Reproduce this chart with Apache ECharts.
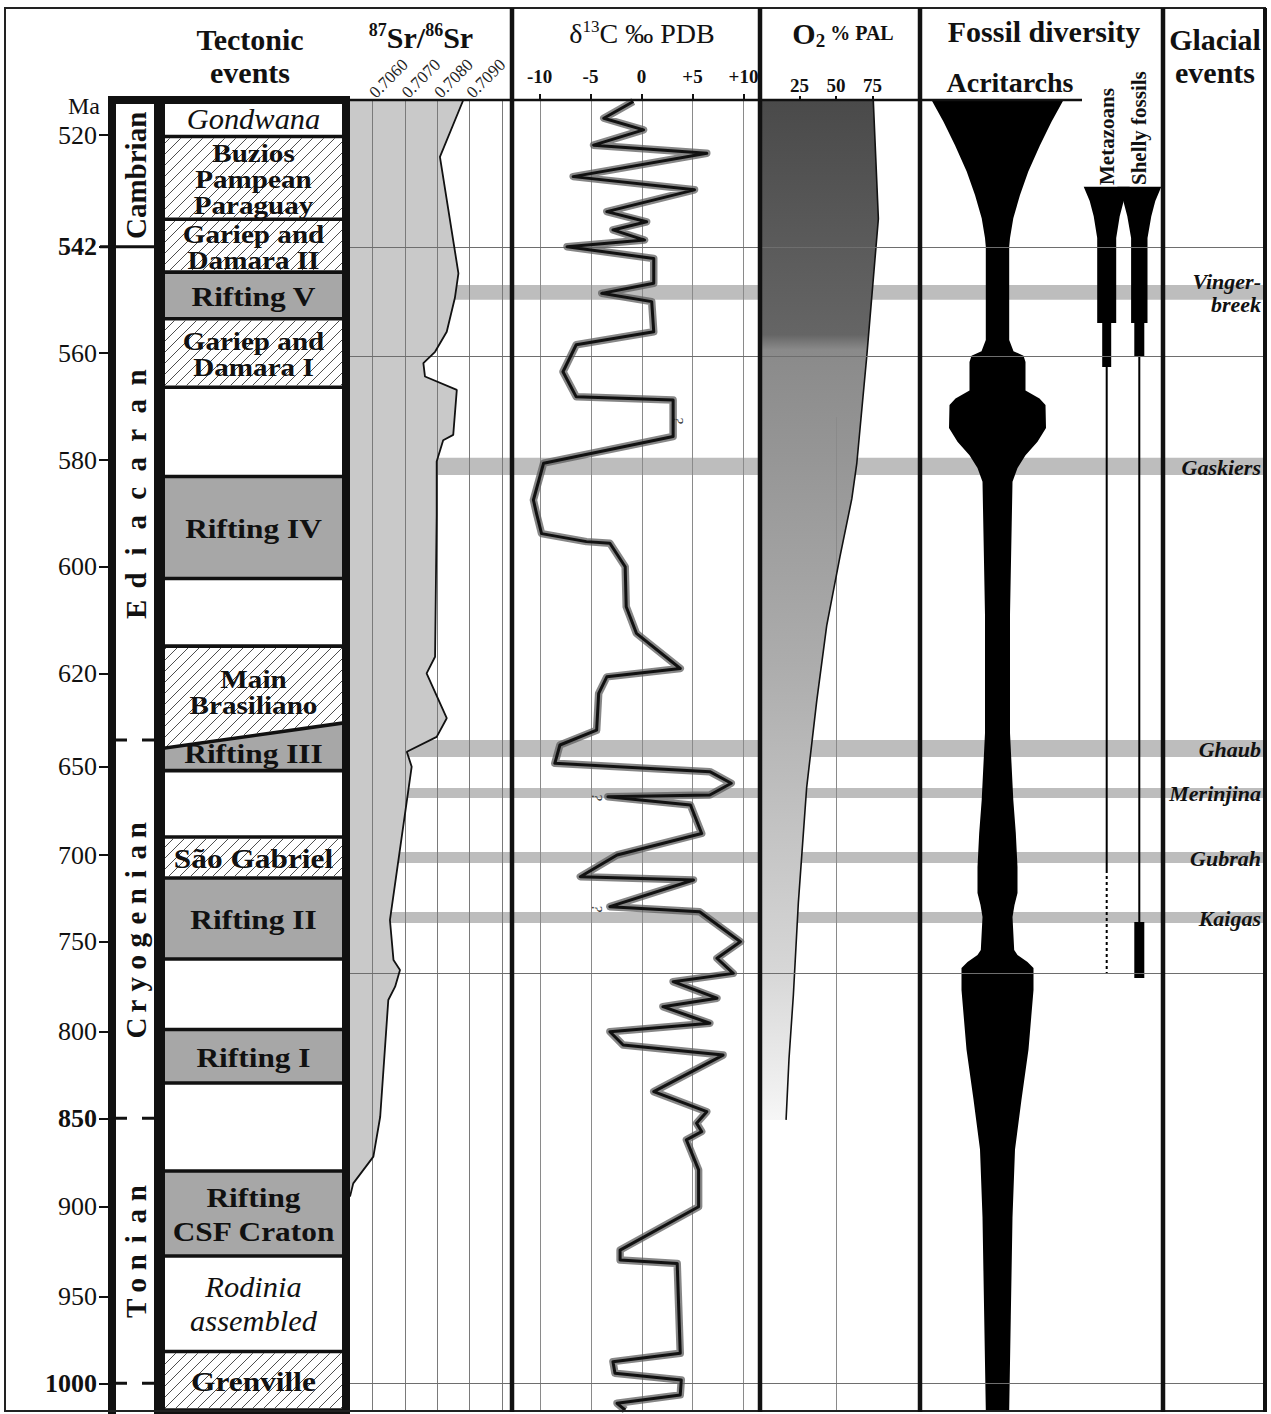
<!DOCTYPE html>
<html><head><meta charset="utf-8">
<script src="https://cdn.jsdelivr.net/npm/echarts@6/dist/echarts.min.js"></script>
<style>html,body{margin:0;padding:0;background:#fff}#c{width:1271px;height:1414px}</style>
</head><body><div id="c"></div>
<script>
// ---------- non-linear age scale of the figure (age -> scale units) ----------
const AGE_ANCHORS   = [513.1, 520, 542, 560, 580, 600, 620, 635, 650, 700, 750, 800, 850, 900, 950, 1000, 1015.2];
const SCALE_ANCHORS = [0, 35, 146.7, 253, 360, 466.7, 573.3, 640, 666.7, 755, 841.7, 931.7, 1018.3, 1106.7, 1196.7, 1283.3, 1310];
const TICK_AGES = [520, 542, 560, 580, 600, 620, 650, 700, 750, 800, 850, 900, 950, 1000];
const BOLD_TICKS = [542, 850, 1000];

// ---------- periods ----------
const PERIOD_NAMES = ['Cambrian', 'Ediacaran', 'Cryogenian', 'Tonian'];
const PERIOD_TOP   = [513.1, 542, 635, 850];
const PERIOD_BASE  = [542, 635, 850, 1000];
const BOUNDARY_AGES  = [542, 635, 850, 1000];
const BOUNDARY_SOLID = [true, false, false, false];

// ---------- tectonic events ----------
const TECT_LABELS = ['Gondwana', 'Buzios\nPampean\nParaguay', 'Gariep and\nDamara II', 'Rifting V', 'Gariep and\nDamara I', '', 'Rifting IV', '', 'Main\nBrasiliano', 'Rifting III', '', 'São Gabriel', 'Rifting II', '', 'Rifting I', '', 'Rifting\nCSF Craton', 'Rodinia\nassembled', 'Grenville'];
const TECT_KIND = ['italic', 'hatch', 'hatch', 'rift', 'hatch', 'plain', 'rift', 'plain', 'hatch', 'rift', 'plain', 'hatch', 'rift', 'plain', 'rift', 'plain', 'rift', 'italic', 'hatch'];
const TECT_BOUNDS = [513.1, 520.3, 536.6, 546.3, 554.2, 566.4, 583.1, 602.2, 614.9, [639.5, 631.2], 652.2, 689.8, 713.3, 759.6, 798.8, 829.6, 879.8, 927.4, 981.6, 1015.2];

// ---------- 87Sr/86Sr ----------
const SR_TICKS = [0.7060, 0.7070, 0.7080, 0.7090];
const SR_GRID = [0.7060, 0.7070, 0.7080, 0.7090, 0.7100];
const SR_AGE = [513.1, 524.3, 546.5, 550.7, 556.4, 559.8, 561.9, 564.4, 566.9, 575.3, 576.3, 580.3, 590.3, 616.9, 620.0, 630.1, 634.3, 641.6, 650.0, 737.5, 760.2, 765.7, 775.0, 782.4, 849.1, 871.7, 886.8, 894.3];
const SR_VAL = [0.70881, 0.70809, 0.70866, 0.70855, 0.70830, 0.70794, 0.70758, 0.70763, 0.70861, 0.70850, 0.70819, 0.70799, 0.70799, 0.70794, 0.70768, 0.70830, 0.70799, 0.70707, 0.70722, 0.70655, 0.70666, 0.70686, 0.70671, 0.70650, 0.70625, 0.70604, 0.70542, 0.70532];

// ---------- delta 13C ----------
const C_TICKS = [-10, -5, 0, 5, 10];
const C_AGE = [513.4, 516.7, 519.0, 522.0, 523.6, 528.2, 530.8, 535.1, 537.1, 538.7, 540.7, 542.0, 544.0, 548.2, 549.9, 551.3, 556.4, 558.6, 563.5, 568.2, 568.8, 575.6, 580.6, 587.5, 590.0, 593.8, 595.3, 595.6, 600.0, 607.5, 612.5, 619.1, 620.8, 624.5, 632.8, 637.8, 648.1, 652.8, 659.4, 666.0, 667.0, 671.7, 687.8, 700.0, 712.5, 714.4, 729.8, 732.7, 750.0, 759.2, 767.6, 772.2, 781.4, 786.1, 795.3, 800.0, 807.7, 813.5, 834.6, 846.2, 852.8, 857.5, 862.2, 879.2, 900.0, 924.1, 929.6, 931.5, 982.7, 987.5, 994.2, 998.1, 1006.6, 1011.4, 1015.2];
const C_VAL = [-0.8, -3.7, 0.2, -4.7, 6.4, -6.7, 5.2, -3.4, 0.5, -2.8, 0.3, -7.3, 1.2, 1.2, -3.9, 1.0, 1.2, -6.4, -7.7, -6.4, 3.1, 3.1, -9.6, -10.6, -10.3, -9.8, -5.4, -3.1, -1.6, -1.5, -0.5, 3.8, -3.4, -4.2, -4.4, -8.0, -8.5, 6.7, 8.8, 6.7, -3.3, 4.8, 5.9, -2.4, -6.0, 5.1, -3.1, 5.7, 9.7, 7.4, 9.0, 3.1, 7.4, 2.1, 6.7, -3.1, -1.8, 8.0, 1.2, 6.4, 5.4, 5.9, 4.4, 5.6, 5.6, -2.1, -2.1, 3.5, 3.8, -2.8, -2.6, 3.9, 3.8, -2.4, -1.6];
const Q_AGE = [572.5, 667.2, 730.7];
const Q_VAL = [3.6, -4.4, -4.4];

// ---------- O2 ----------
const O2_TICKS = [25, 50, 75];
const O2_AGE = [513.1, 536.5, 560.8, 580.7, 587.3, 598.1, 611.1, 626.2, 661.8, 727.6, 779.6, 815.8, 850.9];
const O2_VAL = [75.5, 79.0, 71.0, 64.2, 60.8, 52.7, 43.6, 36.8, 29.9, 24.2, 20.8, 17.8, 15.8];

// ---------- fossil diversity (relative half-widths) ----------
const ACRI_AGE = [513.1, 517.4, 522.0, 527.2, 531.8, 536.4, 540.3, 542.0, 557.8, 559.7, 560.5, 561.7, 567.0, 568.5, 569.7, 574.0, 576.6, 579.1, 581.5, 584.1, 609.0, 633.4, 668.9, 687.5, 706.9, 721.9, 728.8, 735.8, 754.6, 757.4, 761.3, 764.6, 776.9, 810.3, 839.1, 867.7, 905.8, 961.6, 1015.2];
const ACRI_HALF = [66, 54, 42.5, 30.8, 22.5, 15.8, 12.5, 11.7, 11.7, 16, 26, 28, 28, 42, 48, 48.5, 40, 28, 20, 15, 12.5, 12.5, 15.8, 18.3, 20, 20, 17, 15, 16.7, 20, 30, 36, 36, 31, 24, 17.5, 15, 13.3, 11.7];
const META_AGE = [530.2, 533.0, 536.0, 540.3, 554.9, 554.9, 562.6, 562.6, 708.7];
const META_HALF = [23, 17, 13, 9.5, 9.5, 4.5, 4.5, 1, 1];
const META_UNCERTAIN = [708.7, 767.4];
const SHELLY_AGE = [530.2, 533.0, 536.0, 540.3, 554.9, 554.9, 560.7, 560.7, 738.6, 738.6, 770.2];
const SHELLY_HALF = [22, 16, 12, 8.2, 8.2, 5, 5, 1, 1, 5, 5];

// ---------- glacial events ----------
const GLACIAL_NAMES = ['Vinger-\nbreek', 'Gaskiers', 'Ghaub', 'Merinjina', 'Gubrah', 'Kaigas'];
const GLACIAL_START = [548.5, 579.6, 635.0, 662.0, 698.3, 732.9];
const GLACIAL_END   = [551.0, 582.8, 644.5, 667.7, 704.6, 739.2];
const REF_AGES = [542, 560.6, 767.4, 1000];

// =====================================================================
const FONT = '"Liberation Serif","Times New Roman",serif';
function T(age) {
  const A = AGE_ANCHORS, S = SCALE_ANCHORS;
  if (age <= A[0]) return S[0] + (age - A[0]) * (S[1] - S[0]) / (A[1] - A[0]);
  for (let i = 1; i < A.length; i++) {
    if (age <= A[i]) return S[i - 1] + (age - A[i - 1]) * (S[i] - S[i - 1]) / (A[i] - A[i - 1]);
  }
  const n = A.length - 1;
  return S[n] + (age - A[n]) * (S[n] - S[n - 1]) / (A[n] - A[n - 1]);
}
const U_MIN = T(AGE_ANCHORS[0]), U_MAX = T(AGE_ANCHORS[AGE_ANCHORS.length - 1]);
const TICK_U = TICK_AGES.map(T);

function hatchPath(poly, step) {
  let d = '';
  const cs = poly.map(p => p[0] + p[1]);
  const cmin = Math.min(...cs), cmax = Math.max(...cs);
  for (let c = Math.ceil(cmin / step) * step; c <= cmax; c += step) {
    const pts = [];
    for (let i = 0; i < poly.length; i++) {
      const a = poly[i], b = poly[(i + 1) % poly.length];
      const fa = a[0] + a[1] - c, fb = b[0] + b[1] - c;
      if ((fa < 0 && fb >= 0) || (fa >= 0 && fb < 0)) {
        const t = fa / (fa - fb);
        pts.push([a[0] + t * (b[0] - a[0]), a[1] + t * (b[1] - a[1])]);
      }
    }
    if (pts.length >= 2) {
      pts.sort((p, q) => p[0] - q[0]);
      const p = pts[0], q = pts[pts.length - 1];
      d += 'M' + p[0].toFixed(1) + ' ' + p[1].toFixed(1) + 'L' + q[0].toFixed(1) + ' ' + q[1].toFixed(1);
    }
  }
  return d;
}
const bL = b => Array.isArray(b) ? b[0] : b;
const bR = b => Array.isArray(b) ? b[1] : b;

// ---------- stratigraphic column + tectonic events ----------
function renderStrat(params, api) {
  const cs = params.coordSys, X = cs.x, Yb = cs.y + cs.height + 4;
  const yOf = a => api.coord([0.5, T(a)])[1];
  const yTop = yOf(AGE_ANCHORS[0]);
  const ch = [];
  ch.push({type: 'rect', shape: {x: X, y: yTop - 4, width: 242, height: Yb - yTop + 4}, style: {fill: '#111'}});
  ch.push({type: 'rect', shape: {x: X + 8, y: yTop + 4, width: 38, height: Yb - yTop}, style: {fill: '#fff'}});
  const x0 = X + 57, x1 = X + 234, g = 1.8;
  for (let i = 0; i < TECT_LABELS.length; i++) {
    const a = TECT_BOUNDS[i], b = TECT_BOUNDS[i + 1];
    const poly = [[x0, yOf(bL(a)) + g], [x1, yOf(bR(a)) + g], [x1, yOf(bR(b)) - g], [x0, yOf(bL(b)) - g]];
    const kind = TECT_KIND[i];
    ch.push({type: 'polygon', shape: {points: poly}, style: {fill: kind === 'rift' ? '#a7a7a7' : '#fff'}});
    if (kind === 'hatch') {
      ch.push({type: 'path', shape: {pathData: hatchPath(poly, 11)}, style: {fill: null, stroke: '#3a3a3a', lineWidth: 0.9}});
    }
    if (TECT_LABELS[i]) {
      const yc = (poly[0][1] + poly[1][1] + poly[2][1] + poly[3][1]) / 4;
      const italic = kind === 'italic';
      const multi = TECT_LABELS[i].indexOf('\n') >= 0;
      const fs = italic ? 29 : (kind === 'hatch' && multi ? 26 : 28);
      ch.push({type: 'text', x: (x0 + x1) / 2, y: yc + 1, scaleX: italic ? 1.05 : 1.12, style: {
        text: TECT_LABELS[i], x: 0, y: 0, align: 'center', verticalAlign: 'middle',
        font: (italic ? 'italic normal ' : 'bold ') + fs + 'px ' + FONT,
        lineHeight: kind === 'hatch' ? 26 : 34, fill: '#111'}});
    }
  }
  ch.push({type: 'rect', shape: {x: X, y: yTop - 4, width: 242, height: 8}, style: {fill: '#111'}});
  for (let i = 0; i < BOUNDARY_AGES.length; i++) {
    const y = yOf(BOUNDARY_AGES[i]);
    if (BOUNDARY_SOLID[i]) {
      ch.push({type: 'line', shape: {x1: X - 8, y1: y, x2: X + 47, y2: y}, style: {stroke: '#111', lineWidth: 3}});
    } else {
      ch.push({type: 'line', shape: {x1: X + 7, y1: y, x2: X + 48, y2: y}, style: {stroke: '#111', lineWidth: 3, lineDash: [12, 15]}});
    }
  }
  const pitch = [0, 29, 22, 23];
  const xc = X + 28;
  for (let i = 0; i < PERIOD_NAMES.length; i++) {
    const yc = (Math.max(yOf(PERIOD_TOP[i]), yTop + 4) + yOf(PERIOD_BASE[i])) / 2;
    const font = 'bold 29px ' + FONT;
    if (!pitch[i]) {
      ch.push({type: 'text', x: xc, y: yc, rotation: Math.PI / 2, style: {text: PERIOD_NAMES[i], x: 0, y: 0, align: 'center', verticalAlign: 'middle', font, fill: '#111'}});
    } else {
      const letters = PERIOD_NAMES[i].split('');
      const n = letters.length;
      letters.forEach((c, k) => {
        const y = yc + (n - 1) / 2 * pitch[i] - k * pitch[i];
        ch.push({type: 'text', x: xc, y, rotation: Math.PI / 2, style: {text: c, x: 0, y: 0, align: 'center', verticalAlign: 'middle', font, fill: '#111'}});
      });
    }
  }
  return {type: 'group', children: ch};
}

// ---------- glacial bands / reference lines / labels ----------
function renderBands(params, api) {
  const cs = params.coordSys;
  const ch = GLACIAL_START.map((s, i) => {
    const y0 = api.coord([0, T(s)])[1], y1 = api.coord([0, T(GLACIAL_END[i])])[1];
    return {type: 'rect', shape: {x: cs.x, y: y0, width: cs.width - 3, height: y1 - y0}, style: {fill: '#bdbdbd'}};
  });
  return {type: 'group', children: ch};
}
function renderRefs(params, api) {
  const cs = params.coordSys;
  const ch = REF_AGES.map(a => {
    const y = Math.round(api.coord([0, T(a)])[1]) + 0.5;
    return {type: 'line', shape: {x1: cs.x, y1: y, x2: cs.x + cs.width - 2, y2: y}, style: {stroke: '#6e6e6e', lineWidth: 1}};
  });
  return {type: 'group', children: ch};
}
function renderGlacialLabels(params, api) {
  const cs = params.coordSys;
  const ch = GLACIAL_NAMES.map((nm, i) => {
    const y = api.coord([0, T((GLACIAL_START[i] + GLACIAL_END[i]) / 2)])[1];
    return {type: 'text', style: {text: nm, x: cs.x + cs.width - 5, y: y + 1, align: 'right', verticalAlign: 'middle',
      font: 'italic bold 22px ' + FONT, lineHeight: 23, fill: '#111'}};
  });
  return {type: 'group', children: ch};
}

// ---------- Sr ----------
function renderSrFill(params, api) {
  const xmin = SR_MIN;
  const pts = [api.coord([xmin, T(SR_AGE[0])])];
  SR_AGE.forEach((a, i) => pts.push(api.coord([SR_VAL[i], T(a)])));
  pts.push(api.coord([xmin, T(SR_AGE[SR_AGE.length - 1])]));
  return {type: 'polygon', shape: {points: pts}, style: {fill: '#c9c9c9'}};
}
function vGrid(values, color) {
  return function (params, api) {
    const ch = values.map(v => {
      const x = Math.round(api.coord([v, U_MIN])[0]) + 0.5;
      return {type: 'line', shape: {x1: x, y1: api.coord([v, U_MIN])[1], x2: x, y2: api.coord([v, U_MAX])[1]}, style: {stroke: color, lineWidth: 1}};
    });
    return {type: 'group', children: ch};
  };
}
function renderQ(params, api) {
  const ch = Q_AGE.map((a, i) => {
    const p = api.coord([Q_VAL[i], T(a)]);
    return {type: 'text', x: p[0], y: p[1], rotation: -Math.PI / 2, style: {text: '?', x: 0, y: 0, align: 'center', verticalAlign: 'middle', font: 'italic 15px ' + FONT, fill: '#333'}};
  });
  return {type: 'group', children: ch};
}
// ---------- O2 ----------
function renderO2(params, api) {
  const xmin = O2_MIN;
  const curve = O2_AGE.map((a, i) => api.coord([O2_VAL[i], T(a)]));
  const pts = [api.coord([xmin, T(O2_AGE[0])])].concat(curve, [api.coord([xmin, T(O2_AGE[O2_AGE.length - 1])])]);
  const grad = new echarts.graphic.LinearGradient(0, 0, 0, 1, [
    {offset: 0, color: '#4a4a4a'}, {offset: 0.23, color: '#656565'}, {offset: 0.245, color: '#8a8a8a'},
    {offset: 0.55, color: '#acacac'}, {offset: 0.85, color: '#d6d6d6'}, {offset: 1, color: '#f6f6f6'}]);
  const gx = Math.round(api.coord([50, 0])[0]) + 0.5;
  return {type: 'group', children: [
    {type: 'polygon', shape: {points: pts}, style: {fill: grad}},
    {type: 'line', shape: {x1: gx, y1: api.coord([50, T(572)])[1], x2: gx, y2: api.coord([50, U_MAX])[1]}, style: {stroke: '#8a8a8a', lineWidth: 1}},
    {type: 'polyline', shape: {points: curve}, style: {stroke: '#111', lineWidth: 1.6, fill: null}}
  ]};
}
// ---------- fossils ----------
const ACRI_CENTER = 0, META_CENTER = 109.2, SHELLY_CENTER = 141.8;
function profile(api, center, ages, halves) {
  const L = [], R = [];
  ages.forEach((a, i) => {
    L.push(api.coord([center - halves[i], T(a)]));
    R.push(api.coord([center + halves[i], T(a)]));
  });
  return L.concat(R.reverse());
}
function renderFossils(params, api) {
  const d0 = api.coord([META_CENTER, T(META_UNCERTAIN[0])]);
  const d1 = api.coord([META_CENTER, T(META_UNCERTAIN[1])]);
  return {type: 'group', children: [
    {type: 'polygon', shape: {points: profile(api, ACRI_CENTER, ACRI_AGE, ACRI_HALF)}, style: {fill: '#000'}},
    {type: 'polygon', shape: {points: profile(api, META_CENTER, META_AGE, META_HALF)}, style: {fill: '#000'}},
    {type: 'polygon', shape: {points: profile(api, SHELLY_CENTER, SHELLY_AGE, SHELLY_HALF)}, style: {fill: '#000'}},
    {type: 'line', shape: {x1: d0[0], y1: d0[1], x2: d1[0], y2: d1[1]}, style: {stroke: '#000', lineWidth: 2, lineDash: [3, 3]}}
  ]};
}

// axis extents of each panel
const SR_MIN = 0.70532, SR_MAX = 0.71031;
const C_MIN = -12.7, C_MAX = 11.62;
const O2_MIN = -2.05, O2_MAX = 107.5;
const FOS_MIN = -77.5, FOS_MAX = 165.5;

const chart = echarts.init(document.getElementById('c'), null, {renderer: 'svg', width: 1271, height: 1414});
const G = (left, width) => ({left, top: 100, width, height: 1310, containLabel: false, outerBoundsMode: 'none'});
const hiddenY = i => ({type: 'value', gridIndex: i, min: U_MIN, max: U_MAX, inverse: true, show: false});
const hiddenX = (i, mn, mx) => ({type: 'value', gridIndex: i, min: mn, max: mx, show: false});
const C_DATA = C_AGE.map((a, i) => [C_VAL[i], T(a)]);

const option = {
  animation: false,
  backgroundColor: '#fff',
  grid: [G(108, 242), G(350, 162), G(512, 248), G(760, 160), G(920, 243), G(350, 916)],
  xAxis: [
    hiddenX(0, 0, 1),
    {type: 'value', gridIndex: 1, min: SR_MIN, max: SR_MAX, position: 'top', axisLine: {show: false}, splitLine: {show: false},
      axisTick: {show: false},
      axisLabel: {customValues: SR_TICKS, rotate: 45, margin: 5, formatter: v => v.toFixed(4), fontFamily: FONT, fontSize: 17, color: '#222'}},
    {type: 'value', gridIndex: 2, min: C_MIN, max: C_MAX, position: 'top', axisLine: {show: false}, splitLine: {show: false},
      axisTick: {show: true, customValues: C_TICKS, length: 6, lineStyle: {color: '#111', width: 2}},
      axisLabel: {customValues: C_TICKS, margin: 14, formatter: v => (v > 0 ? '+' + v : String(v)), fontFamily: FONT, fontSize: 19, fontWeight: 'bold', color: '#111'}},
    {type: 'value', gridIndex: 3, min: O2_MIN, max: O2_MAX, position: 'top', axisLine: {show: false}, splitLine: {show: false},
      axisTick: {show: true, customValues: O2_TICKS, length: 4, lineStyle: {color: '#111', width: 2}},
      axisLabel: {customValues: O2_TICKS, margin: 5, fontFamily: FONT, fontSize: 19, fontWeight: 'bold', color: '#111'}},
    hiddenX(4, FOS_MIN, FOS_MAX),
    hiddenX(5, 0, 1)
  ],
  yAxis: [
    {type: 'value', gridIndex: 0, min: U_MIN, max: U_MAX, inverse: true, position: 'left',
      axisLine: {show: false}, splitLine: {show: false},
      axisTick: {show: true, customValues: TICK_U, length: 9, lineStyle: {color: '#111', width: 2}},
      axisLabel: {customValues: TICK_U, margin: 11,
        formatter: v => {
          const i = TICK_U.findIndex(u => Math.abs(u - v) < 0.01);
          const age = TICK_AGES[i];
          return (BOLD_TICKS.includes(age) ? '{b|' : '{r|') + age + '}';
        },
        rich: {r: {fontFamily: FONT, fontSize: 26, color: '#111'}, b: {fontFamily: FONT, fontSize: 26, fontWeight: 'bold', color: '#111'}}}},
    hiddenY(1), hiddenY(2), hiddenY(3), hiddenY(4), hiddenY(5)
  ],
  series: [
    {type: 'custom', xAxisIndex: 5, yAxisIndex: 5, z: 1, silent: true, data: [[0.5, 600]], renderItem: renderBands},
    {type: 'custom', xAxisIndex: 0, yAxisIndex: 0, z: 2, silent: true, data: [[0.5, 600]], renderItem: renderStrat},
    {type: 'custom', xAxisIndex: 1, yAxisIndex: 1, z: 2, silent: true, data: [[0.708, 600]], renderItem: renderSrFill},
    {type: 'custom', xAxisIndex: 1, yAxisIndex: 1, z: 4, silent: true, data: [[0.708, 600]], renderItem: vGrid(SR_GRID, '#7a7a7a')},
    {type: 'line', xAxisIndex: 1, yAxisIndex: 1, z: 5, silent: true, symbol: 'none', showSymbol: false,
      data: SR_AGE.map((a, i) => [SR_VAL[i], T(a)]), lineStyle: {color: '#111', width: 1.8}},
    {type: 'custom', xAxisIndex: 2, yAxisIndex: 2, z: 3, silent: true, data: [[0, 600]], renderItem: vGrid(C_TICKS, '#8a8a8a')},
    {type: 'line', xAxisIndex: 2, yAxisIndex: 2, z: 5, silent: true, symbol: 'none', showSymbol: false,
      data: C_DATA, lineStyle: {color: 'rgba(95,95,95,0.75)', width: 7.5, join: 'round'}},
    {type: 'line', xAxisIndex: 2, yAxisIndex: 2, z: 6, silent: true, symbol: 'none', showSymbol: false,
      data: C_DATA, lineStyle: {color: '#111', width: 3, join: 'round'}},
    {type: 'custom', xAxisIndex: 2, yAxisIndex: 2, z: 6, silent: true, data: [[0, 600]], renderItem: renderQ},
    {type: 'custom', xAxisIndex: 3, yAxisIndex: 3, z: 2, silent: true, data: [[50, 600]], renderItem: renderO2},
    {type: 'custom', xAxisIndex: 4, yAxisIndex: 4, z: 3, silent: true, data: [[0, 600]], renderItem: renderFossils},
    {type: 'custom', xAxisIndex: 5, yAxisIndex: 5, z: 4, silent: true, data: [[0.5, 600]], renderItem: renderRefs},
    {type: 'custom', xAxisIndex: 5, yAxisIndex: 5, z: 7, silent: true, data: [[0.5, 600]], renderItem: renderGlacialLabels}
  ],
  graphic: [
    {type: 'rect', z: 50, shape: {x: 5, y: 8, width: 1260, height: 1403}, style: {fill: null, stroke: '#222', lineWidth: 2}},
    {type: 'line', z: 50, shape: {x1: 1265, y1: 8, x2: 1265, y2: 1412}, style: {stroke: '#111', lineWidth: 4}},
    {type: 'line', z: 50, shape: {x1: 512, y1: 8, x2: 512, y2: 1412}, style: {stroke: '#111', lineWidth: 4.5}},
    {type: 'line', z: 50, shape: {x1: 760, y1: 8, x2: 760, y2: 1412}, style: {stroke: '#111', lineWidth: 4.5}},
    {type: 'line', z: 50, shape: {x1: 920, y1: 8, x2: 920, y2: 1412}, style: {stroke: '#111', lineWidth: 4.5}},
    {type: 'line', z: 50, shape: {x1: 1163, y1: 8, x2: 1163, y2: 1412}, style: {stroke: '#111', lineWidth: 4.5}},
    {type: 'line', z: 50, shape: {x1: 350, y1: 100, x2: 1082, y2: 100}, style: {stroke: '#111', lineWidth: 2.5}},
    {type: 'text', z: 60, x: 84, y: 106, style: {text: 'Ma', x: 0, y: 0, align: 'center', verticalAlign: 'middle', font: '24px ' + FONT, fill: '#111'}},
    {type: 'text', z: 60, x: 250, y: 56, style: {text: 'Tectonic\nevents', x: 0, y: 0, align: 'center', verticalAlign: 'middle', font: 'bold 30px ' + FONT, lineHeight: 33, fill: '#111'}},
    {type: 'text', z: 60, x: 421, y: 37, style: {text: '{s|87}{b|Sr/}{s|86}{b|Sr}', x: 0, y: 0, align: 'center', verticalAlign: 'middle',
      rich: {b: {fontFamily: FONT, fontWeight: 'bold', fontSize: 30, lineHeight: 32, fill: '#111'}, s: {fontFamily: FONT, fontWeight: 'bold', fontSize: 18, lineHeight: 32, verticalAlign: 'top', fill: '#111'}}}},
    {type: 'text', z: 60, x: 642, y: 33, style: {text: '{n|δ}{s|13}{n|C ‰ PDB}', x: 0, y: 0, align: 'center', verticalAlign: 'middle',
      rich: {n: {fontFamily: FONT, fontSize: 28, lineHeight: 30, fill: '#111'}, s: {fontFamily: FONT, fontSize: 17, lineHeight: 30, verticalAlign: 'top', fill: '#111'}}}},
    {type: 'text', z: 60, x: 843, y: 33, style: {text: '{b|O}{u|2}{p| % PAL}', x: 0, y: 0, align: 'center', verticalAlign: 'middle',
      rich: {b: {fontFamily: FONT, fontWeight: 'bold', fontSize: 30, lineHeight: 34, fill: '#111'}, u: {fontFamily: FONT, fontWeight: 'bold', fontSize: 19, lineHeight: 34, verticalAlign: 'bottom', fill: '#111'},
        p: {fontFamily: FONT, fontWeight: 'bold', fontSize: 20, lineHeight: 34, fill: '#111'}}}},
    {type: 'text', z: 60, x: 1044, y: 31, style: {text: 'Fossil diversity', x: 0, y: 0, align: 'center', verticalAlign: 'middle', font: 'bold 30px ' + FONT, fill: '#111'}},
    {type: 'text', z: 60, x: 1215, y: 56, style: {text: 'Glacial\nevents', x: 0, y: 0, align: 'center', verticalAlign: 'middle', font: 'bold 30px ' + FONT, lineHeight: 33, fill: '#111'}},
    {type: 'text', z: 60, x: 1010, y: 82, style: {text: 'Acritarchs', x: 0, y: 0, align: 'center', verticalAlign: 'middle', font: 'bold 28px ' + FONT, fill: '#111'}},
    {type: 'text', z: 60, x: 1107, y: 185, rotation: Math.PI / 2, style: {text: 'Metazoans', x: 0, y: 0, align: 'left', verticalAlign: 'middle', font: 'bold 21px ' + FONT, fill: '#111'}},
    {type: 'text', z: 60, x: 1139, y: 185, rotation: Math.PI / 2, style: {text: 'Shelly fossils', x: 0, y: 0, align: 'left', verticalAlign: 'middle', font: 'bold 21px ' + FONT, fill: '#111'}}
  ]
};
chart.setOption(option);
</script>
</body></html>
